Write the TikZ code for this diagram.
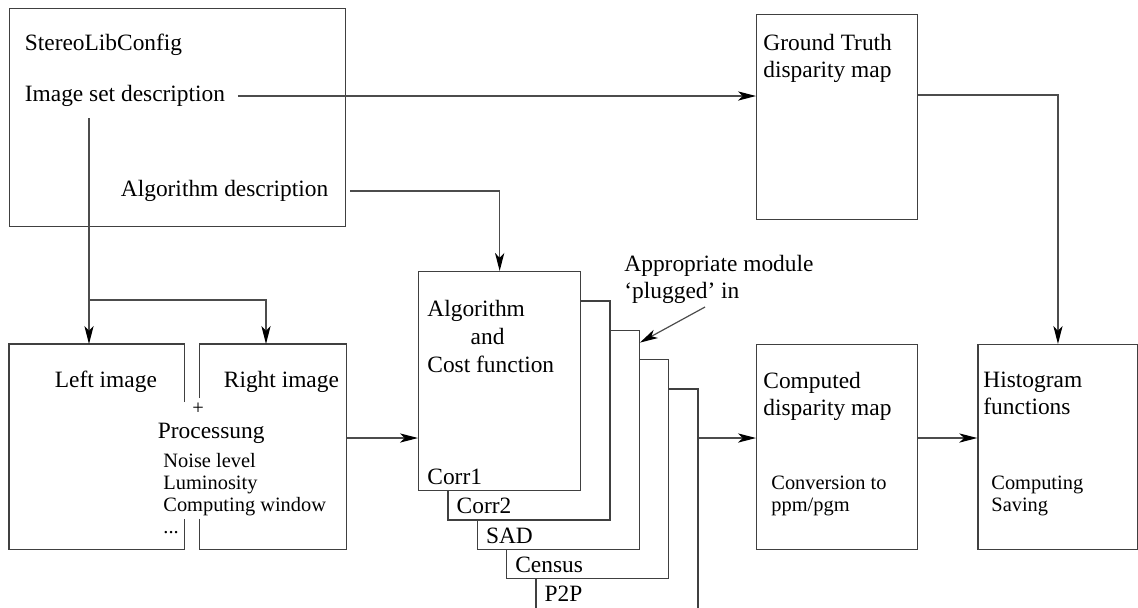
\documentclass[tikz,border=0pt]{standalone}
\usepackage{fontspec}
\setmainfont{Liberation Serif}
\usetikzlibrary{arrows.meta,positioning}

\newcommand{\mainsize}{\fontsize{11.7}{13.6}\selectfont}
\newcommand{\notesize}{\fontsize{10.2}{11}\selectfont}

\begin{document}
\begin{tikzpicture}[x=0.5pt,y=-0.5pt,
    box/.style={draw=black!75, line width=0.65pt, inner sep=0pt, anchor=north west},
    arr/.style={draw=black!70, line width=0.6pt, -{Stealth[length=9pt,width=4.6pt,inset=2.4pt,color=black]}},
    txt/.style={inner sep=0.75pt, font=\mainsize, align=left},
    note/.style={inner sep=0.75pt, font=\notesize, align=left}]
    \useasboundingbox (0,0) rectangle (1138,607);

    %Shape: Rectangle [config]
    \node[box, minimum width=168pt, minimum height=109pt] (cfg) at (9,8) {};
    % Text Node
    \node[txt, anchor=west] (cfgname) at (23,45) {StereoLibConfig};
    % Text Node
    \node[txt, anchor=west] (imgset) at (23,96) {Image set description};
    % Text Node
    \node[txt, anchor=west] (algdesc) at (119,191) {Algorithm description};

    %Shape: Rectangle [ground truth]
    \node[box, minimum width=80.5pt, minimum height=102.5pt] (gt) at (756,14) {};
    % Text Node
    \node[txt, anchor=north west] (gtname) at (761.5,32.5) {Ground Truth\\disparity map};

    %Shape: left / right image, outlines open round the processing text
    \node[minimum width=87.5pt, minimum height=102.5pt, inner sep=0pt, anchor=north west] (leftimg) at (9,344) {};
    \node[minimum width=73pt, minimum height=102.5pt, inner sep=0pt, right=7.5pt of leftimg] (rightimg) {};
    \draw[draw=black!75, line width=0.65pt] (leftimg.east |- 0,402) -- (leftimg.north east) -- (leftimg.north west) -- (leftimg.south west) -- (leftimg.south east) -- (leftimg.east |- 0,519);
    \draw[draw=black!75, line width=0.65pt] (rightimg.west |- 0,398) -- (rightimg.north west) -- (rightimg.north east) -- (rightimg.south east) -- (rightimg.south west) -- (rightimg.west |- 0,519);
    % Text Node
    \node[txt, anchor=west] (leftname) at (53,382) {Left image};
    % Text Node
    \node[txt, anchor=west] (rightname) at (222,382) {Right image};
    % Text Node
    \node[note] (plus) at (198,409) {+};
    % Text Node
    \node[txt, anchor=west] (proc) at (156,433) {Processung};
    % Text Node
    \node[note, anchor=north west] (proclist) at (161.5,451) {Noise level\\Luminosity\\Computing window\\...};

    %Shape: stacked cost function cards, back to front (last one runs off the page)
    \foreach \i/\lbl in {5/P2P,4/Census,3/SAD,2/Corr2,1/Corr1}{
        \node[box, fill=white, minimum width=81pt, minimum height={109.5pt+4pt*(\i==5)}] (card\i) at ({418+29.3*(\i-1)},{271+29.3*(\i-1)}) {};
        \node[txt, anchor=west] (lbl\i) at ([xshift=3.75pt,yshift=-103pt]card\i.north west) {\lbl};
    }
    % Text Node
    \node[txt, anchor=north west, font=\fontsize{11.7}{14}\selectfont] (algname) at (425.5,298.5) {Algorithm\\\hspace*{1.85em}and\\Cost function};
    % Text Node
    \node[txt, anchor=north west] (plug) at (622.5,253) {Appropriate module\\`plugged' in};
    \coordinate (plugtail) at (705,307);

    %Shape: Rectangle [computed map]
    \node[box, minimum width=80.5pt, minimum height=102.5pt] (comp) at (756,344) {};
    % Text Node
    \node[txt, anchor=north west] (compname) at (761.5,370) {Computed\\disparity map};
    % Text Node
    \node[note, anchor=north west] (compnote) at (769.5,474.5) {Conversion to\\ppm/pgm};

    %Shape: Rectangle [histogram]
    \node[box, minimum width=80pt, minimum height=102.5pt, right=29.5pt of comp] (hist) {};
    % Text Node
    \node[txt, anchor=north west] (histname) at (981.5,370) {Histogram\\functions};
    % Text Node
    \node[note, anchor=north west] (histnote) at (989.5,474.5) {Computing\\Saving};

    % connectors
    \coordinate (imgfoot) at (89,118);
    \coordinate (splitl) at (89,300);
    \coordinate (splitr) at (266,300);
    \draw[arr] ([xshift=5.5pt]imgset.east) -- (gt.west |- imgset.east);
    \draw[arr] (imgfoot) -- (splitl) -- (leftimg.north -| splitl);
    \draw[arr] (splitl) -- (splitr) -- (rightimg.north -| splitr);
    \draw[arr] ([xshift=10pt]algdesc.east) -| (card1.north);
    \draw[arr] (rightimg.east |- 0,438) -- (card1.west |- 0,438);
    \draw[arr] (card5.east |- 0,438) -- (comp.west |- 0,438);
    \draw[arr] (comp.east |- 0,438) -- (hist.west |- 0,438);
    \draw[arr] (gt.east |- 0,95) -| (hist.north);
    \draw[arr] (plugtail) -- ([yshift=-6.5pt]card3.north east);
\end{tikzpicture}
\end{document}
